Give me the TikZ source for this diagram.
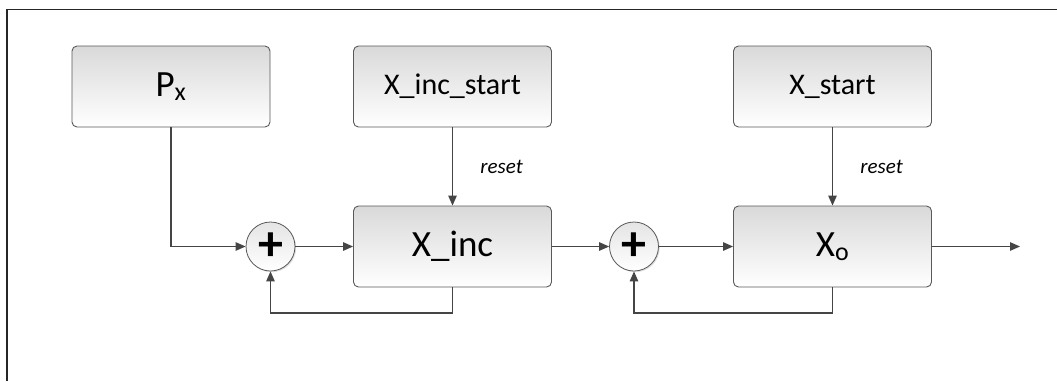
\documentclass[tikz,border=0pt]{standalone}
\usepackage{fontspec}
\setmainfont{Carlito}
\usetikzlibrary{arrows.meta,shadows}
\definecolor{edgegray}{HTML}{595959}
\definecolor{linegray}{HTML}{454545}
\definecolor{fillgray}{HTML}{D9D9D9}
\tikzset{
  block/.style={draw=edgegray, line width=0.9pt, rounded corners=5pt,
    minimum width=198pt, minimum height=81pt, inner sep=0pt,
    top color=fillgray, bottom color=white, text=black},
  bigtext/.style={font=\fontsize{37}{40}\selectfont},
  midtext/.style={font=\fontsize{30}{34}\selectfont},
  adder/.style={circle, draw=edgegray, line width=0.8pt, minimum size=49pt,
    inner sep=0pt, top color=fillgray!70, bottom color=white,
    drop shadow={shadow xshift=1.2pt, shadow yshift=-1.2pt, opacity=0.25},
    font=\fontsize{50}{50}\selectfont\bfseries},
  conn/.style={draw=linegray, line width=1.2pt,
    -{Triangle[length=10pt, width=8.5pt]}},
  tag/.style={font=\fontsize{21}{24}\selectfont\itshape, text=black}
}
\begin{document}
\begin{tikzpicture}[x=1pt, y=-1pt]
  \useasboundingbox (0,0) rectangle (1057,381);
  \fill[white] (0,0) rectangle (1057,381);
  % frame edges
  \draw[line width=1.4pt, color=black!85] (1057,9.5) -- (7,9.5) -- (7,381);

  % blocks
  \node[block, bigtext] (px)  at (171,86.5)   {P\textsubscript{x}};
  \node[block, midtext] (xis) at (452.5,86.5) {X\_inc\_start};
  \node[block, bigtext] (xi)  at (452.5,246.5){X\_inc};
  \node[block, midtext] (xs)  at (832.5,86.5) {X\_start};
  \node[block, bigtext] (xo)  at (832.5,246.5){X\textsubscript{o}};

  % adders
  \node[adder] (s1) at (270.5,246.5) {+};
  \node[adder] (s2) at (634,246.5) {+};

  % loose ends
  \coordinate (out) at (1020,246.5);
  \coordinate (fb1) at (452.5,313);
  \coordinate (fb2) at (832.5,313);

  % signal paths
  \draw[conn] (px.south) |- (s1.west);
  \draw[conn] (s1.east) -- (xi.west);
  \draw[conn] (xis.south) -- node[tag, right=24pt, pos=0.5] {reset} (xi.north);
  \draw[conn] (xi.south) -- (fb1) -| (s1.south);
  \draw[conn] (xi.east) -- (s2.west);
  \draw[conn] (s2.east) -- (xo.west);
  \draw[conn] (xs.south) -- node[tag, right=24pt, pos=0.5] {reset} (xo.north);
  \draw[conn] (xo.south) -- (fb2) -| (s2.south);
  \draw[conn] (xo.east) -- (out);
\end{tikzpicture}
\end{document}
